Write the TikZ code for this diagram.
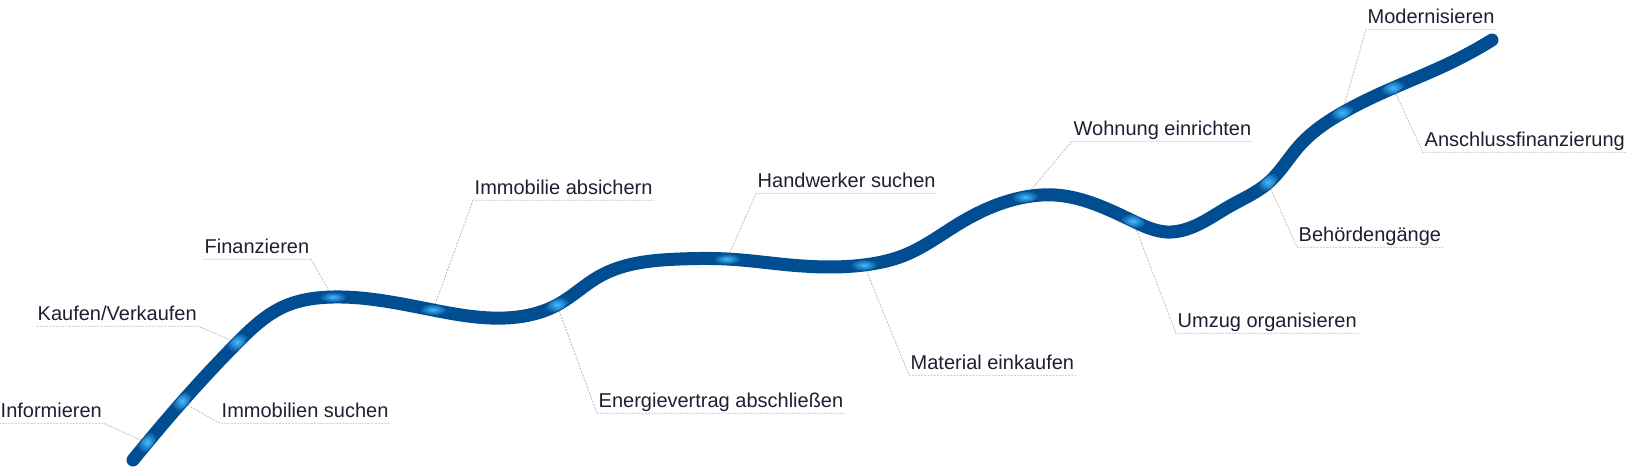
\documentclass[tikz,border=0pt]{standalone}
\usepackage{fontspec}
\setmainfont{Liberation Sans}
\usetikzlibrary{shapes.geometric,calc,hobby}
\definecolor{roadblue}{HTML}{004D91}
\definecolor{glowc}{HTML}{45BAFF}
\definecolor{txt}{HTML}{1C2033}
\definecolor{conn}{HTML}{BDBDBD}
\begin{document}
\begin{tikzpicture}[x=1pt,y=-1pt,
  lbl/.style={anchor=base west, inner xsep=1.5pt, inner ysep=1.5pt, text depth=4.5pt, text=txt, font=\fontsize{20}{24}\selectfont},
  leader/.style={draw=conn, line width=0.8pt, dash pattern=on 2pt off 1.2pt},
  road/.style={draw=roadblue, line width=13pt, line cap=round},
  glow/.style={ellipse, minimum width=28pt, minimum height=11pt, inner sep=0pt, shading=radial, inner color=glowc, outer color=roadblue}]
\useasboundingbox (0,0) rectangle (1627,466);

% spots on the road
\coordinate (s1) at (147,443);
\coordinate (s2) at (237,343);
\coordinate (s3) at (182,402);
\coordinate (s4) at (333,297);
\coordinate (s5) at (433,310);
\coordinate (s6) at (557,305);
\coordinate (s7) at (727,259);
\coordinate (s8) at (864,265);
\coordinate (s9) at (1025,197);
\coordinate (s10) at (1133,221);
\coordinate (s11) at (1268,183);
\coordinate (s12) at (1342,113);
\coordinate (s13) at (1393,88);
\coordinate (start) at (133,460);
\coordinate (end) at (1492,40);

% labels
\node[lbl] (l1) at (-1,417) {Informieren};
\node[lbl] (l2) at (36,320) {Kaufen/Verkaufen};
\node[lbl] (l3) at (220,417) {Immobilien suchen};
\node[lbl] (l4) at (203,253) {Finanzieren};
\node[lbl] (l5) at (473,194) {Immobilie absichern};
\node[lbl] (l6) at (597,407) {Energievertrag abschließen};
\node[lbl] (l7) at (756,187) {Handwerker suchen};
\node[lbl] (l8) at (909,369) {Material einkaufen};
\node[lbl] (l9) at (1072,135) {Wohnung einrichten};
\node[lbl] (l10) at (1176,327) {Umzug organisieren};
\node[lbl] (l11) at (1297,241) {Behördengänge};
\node[lbl] (l12) at (1366,23) {Modernisieren};
\node[lbl] (l13) at (1423,146) {Anschlussfinanzierung};

% leaders
\draw[leader] (s1) -- (l1.south east) -- (l1.south west);
\draw[leader] (s2) -- (l2.south east) -- (l2.south west);
\draw[leader] (s3) -- (l3.south west) -- (l3.south east);
\draw[leader] (s4) -- (l4.south east) -- (l4.south west);
\draw[leader] (s5) -- (l5.south west) -- (l5.south east);
\draw[leader] (s6) -- (l6.south west) -- (l6.south east);
\draw[leader] (s7) -- (l7.south west) -- (l7.south east);
\draw[leader] (s8) -- (l8.south west) -- (l8.south east);
\draw[leader] (s9) -- (l9.south west) -- (l9.south east);
\draw[leader] (s10) -- (l10.south west) -- (l10.south east);
\draw[leader] (s11) -- (l11.south west) -- (l11.south east);
\draw[leader] (s12) -- (l12.south west) -- (l12.south east);
\draw[leader] (s13) -- (l13.south west) -- (l13.south east);

% road
\draw[road] (start) to[curve through={(s1) .. (s3) .. (s2) .. (283,307) .. (s4)
 .. (s5) .. (505,318) .. (s6) .. (600,276) .. (680,259) .. (s7) .. (790,265)
 .. (s8) .. (905,255) .. (960,223) .. (s9) .. (1055,195) .. (s10) .. (1167,232)
 .. (1197,225) .. (1230,206) .. (s11) .. (1300,145) .. (s12) .. (s13) .. (1450,63)}] (end);

% glows
\node[glow, rotate=50] (g1) at (s1) {};
\node[glow, rotate=43] (g2) at (s2) {};
\node[glow, rotate=48] (g3) at (s3) {};
\node[glow, rotate=-1] (g4) at (s4) {};
\node[glow, rotate=-7] (g5) at (s5) {};
\node[glow, rotate=28] (g6) at (s6) {};
\node[glow, rotate=-1] (g7) at (s7) {};
\node[glow, rotate=4] (g8) at (s8) {};
\node[glow, rotate=8] (g9) at (s9) {};
\node[glow, rotate=-22] (g10) at (s10) {};
\node[glow, rotate=42] (g11) at (s11) {};
\node[glow, rotate=30] (g12) at (s12) {};
\node[glow, rotate=25] (g13) at (s13) {};
\end{tikzpicture}
\end{document}
